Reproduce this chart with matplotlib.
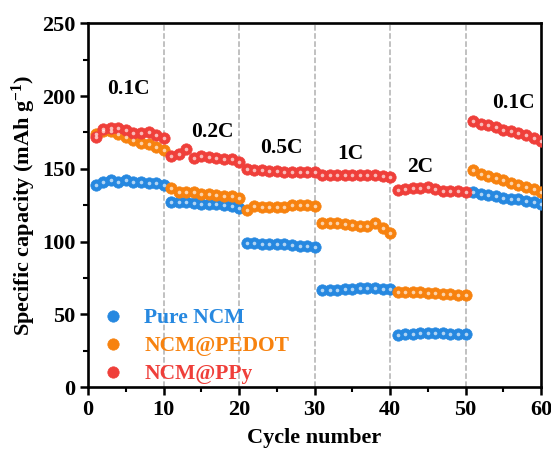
import numpy as np
import matplotlib
matplotlib.use("Agg")
import matplotlib.pyplot as plt
from matplotlib.legend_handler import HandlerTuple

plt.rcParams['font.family'] = ['Liberation Serif', 'DejaVu Serif']
plt.rcParams['font.weight'] = 'bold'
plt.rcParams['mathtext.default'] = 'regular'

### data
cycles = np.arange(1, 61)

pure_ncm = [139, 141, 142, 141, 142, 141, 141, 140, 140, 139,
            127.5, 127, 127, 126.5, 126, 125.5, 125.5, 125, 124.5, 123,
            99, 99, 98.5, 98.5, 98, 98, 97.5, 97, 97, 96.5,
            67, 67, 67, 67.5, 67.5, 68, 68, 68, 67.5, 67.5,
            36, 36.5, 36.5, 37, 37, 37, 37, 36.5, 36.5, 36.5,
            134, 133, 132, 131, 130, 129.5, 129, 128, 127, 126]

ncm_pedot = [174, 176, 176, 174, 172, 170, 168, 167, 165, 163,
             137, 134, 134, 134, 133, 133, 132, 131, 131, 130,
             122, 124.5, 124, 124, 124, 124, 125, 125, 125, 124.5,
             113, 112.5, 112.5, 112, 111.5, 111, 110.5, 113, 109, 106,
             65.5, 65.5, 65.5, 65, 64.5, 64.5, 64, 64, 63.5, 63,
             149, 146.5, 145, 143.5, 142, 140.5, 139, 137.5, 136, 134]

ncm_ppy = [172, 177.5, 178, 178, 177, 174.5, 174.5, 175, 173.5, 171.5,
           159, 160.5, 163.5, 157.5, 159, 158, 157.5, 156.5, 156.5, 155,
           150, 149, 149, 148.5, 148.5, 148, 148, 147.5, 147.5, 147.5,
           145.5, 146, 146, 146, 146, 146, 145.5, 145.5, 145, 144.5,
           135.5, 136, 136.5, 137, 137.5, 136, 135, 135, 134.5, 134,
           183, 181, 180, 178.5, 177, 176, 174.5, 173.5, 171.5, 169]

series_names = ['Pure NCM', 'NCM@PEDOT', 'NCM@PPy']
series_colors = ['#2688e0', '#f7820f', '#ef3f3a']

rate_labels = ['0.1C', '0.2C', '0.5C', '1C', '2C', '0.1C']
rate_label_x = [5.4, 16.4, 25.6, 34.7, 44.0, 56.4]
rate_label_y = [205, 175, 164, 160.5, 151, 195.5]
rate_borders = [10, 20, 30, 40, 50]

fig = plt.figure(figsize=(5.51, 4.57), dpi=100)
ax = fig.add_axes([0.16, 0.153, 0.822, 0.796])

for b in rate_borders:
    ax.axvline(b, color='#b0b0b0', ls='--', lw=1.1, zorder=0)

handles = []
for vals, name, col in zip([pure_ncm, ncm_pedot, ncm_ppy], series_names, series_colors):
    ### sphere look: coloured ball plus a small pale highlight
    outer, = ax.plot(cycles, vals, 'o', ms=8.2, color=col, mec=col, mew=0.5, zorder=3)
    inner, = ax.plot(cycles, vals, 'o', ms=2.6, color='white', mec='none', alpha=0.65, zorder=4)
    handles.append((outer, inner))

for t, x, y in zip(rate_labels, rate_label_x, rate_label_y):
    ax.text(x, y, t, ha='center', va='center', fontsize=15.5, fontweight='bold')

leg = ax.legend(handles, series_names, handler_map={tuple: HandlerTuple(ndivide=None, pad=0)},
                loc='lower left', bbox_to_anchor=(0.0, -0.045), frameon=False,
                fontsize=15.5, handlelength=1.0, handletextpad=0.7, labelspacing=0.36,
                borderaxespad=0.5)
for txt, col in zip(leg.get_texts(), series_colors):
    txt.set_color(col)

ax.set_xlim(0, 60)
ax.set_ylim(0, 250)
ax.set_xticks(np.arange(0, 61, 10))
ax.set_xticks(np.arange(5, 60, 10), minor=True)
ax.set_yticks(np.arange(0, 251, 50))
ax.set_yticks(np.arange(25, 250, 50), minor=True)
ax.tick_params(which='major', direction='out', length=6, width=1.8, labelsize=16, pad=3)
ax.tick_params(which='minor', direction='out', length=3.5, width=1.5)
ax.tick_params(top=False, right=False)
for s in ax.spines.values():
    s.set_linewidth(1.9)

ax.set_xlabel('Cycle number', fontsize=16, fontweight='bold', labelpad=6)
ax.set_ylabel('Specific capacity (mAh g$^{-1}$)', fontsize=16, fontweight='bold', labelpad=3)

fig.savefig('out.png', dpi=100)
